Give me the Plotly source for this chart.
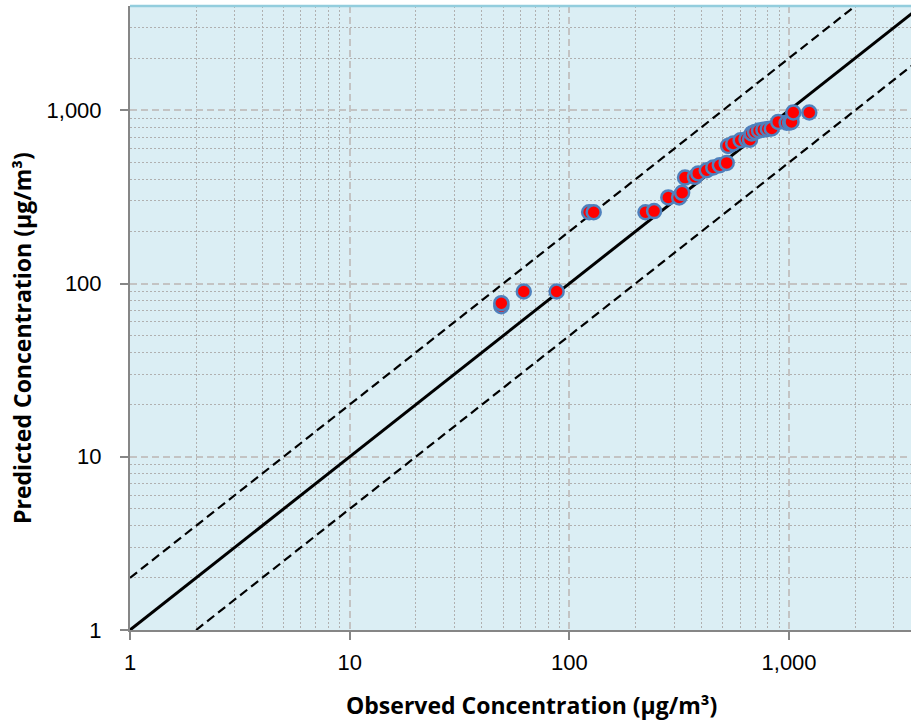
import plotly.graph_objects as go
import math

# Data (observed vs predicted, µg/m³)
observed = [49, 49, 62, 87.5, 123, 129, 222, 243, 282, 316, 326, 336, 373, 386,
            422, 452, 484, 520, 528, 557, 602, 640, 664, 676, 700, 730, 764, 800,
            834, 893, 975, 1010, 1026, 1045, 1236]
predicted = [74, 77, 90, 90, 258, 258, 258, 262, 314, 314, 334, 409, 413, 432,
             451, 468, 482, 497, 623, 643, 672, 680, 677, 735, 750, 765, 773, 780,
             785, 857, 847, 850, 857, 971, 971]

# Reference lines (1:1, factor-of-two bounds)
one_x = [1, 4000]
one_y = [1, 4000]
upper_x = [1, 2000]
upper_y = [2, 4000]
lower_x = [2, 8000]
lower_y = [1, 4000]

tick_vals = [1, 10, 100, 1000]
tick_text = ["1", "10", "100", "1,000"]
minor_vals = [m * d for d in [1, 10, 100, 1000] for m in range(2, 10)]

fig = go.Figure()
fig.add_trace(go.Scatter(x=upper_x, y=upper_y, mode="lines",
                         line=dict(color="black", width=2.2, dash="9px,5px"),
                         showlegend=False, hoverinfo="skip"))
fig.add_trace(go.Scatter(x=lower_x, y=lower_y, mode="lines",
                         line=dict(color="black", width=2.2, dash="9px,5px"),
                         showlegend=False, hoverinfo="skip"))
fig.add_trace(go.Scatter(x=one_x, y=one_y, mode="lines",
                         line=dict(color="black", width=3),
                         showlegend=False, hoverinfo="skip"))
fig.add_trace(go.Scatter(x=observed, y=predicted, mode="markers",
                         marker=dict(size=14, color="#FF0000",
                                     line=dict(color="#4F81BD", width=2.5)),
                         showlegend=False))

tick_font = dict(family="Liberation Sans, Arial, sans-serif", size=22, color="#000000")
axis_common = dict(
    type="log",
    tickvals=tick_vals,
    ticktext=tick_text,
    ticks="outside",
    ticklen=8,
    tickwidth=2,
    tickcolor="#868686",
    showline=True,
    linecolor="#868686",
    linewidth=2,
    showgrid=True,
    gridcolor="#C3C3C3",
    gridwidth=1.6,
    griddash="7px,4px",
    zeroline=False,
    tickfont=tick_font,
    minor=dict(tickvals=minor_vals, showgrid=True, gridcolor="#B0B0B0",
               gridwidth=1, griddash="2px,2px", ticks=""),
)

fig.update_xaxes(**axis_common, range=[0, 3.555], ticklabelstandoff=4)
fig.update_yaxes(**axis_common, range=[0, math.log10(4000)], ticklabelstandoff=14)

title_font = dict(family="Open Sans, Noto Sans, sans-serif", size=23, color="#000000")
fig.add_annotation(text="<b>Observed Concentration (µg/m³)</b>", xref="paper", yref="paper",
                   x=(531 - 130) / 781, y=-(705 - 630) / 624, xanchor="center", yanchor="middle",
                   showarrow=False, font=title_font)
fig.add_annotation(text="<b>Predicted Concentration (µg/m³)</b>", xref="paper", yref="paper",
                   x=-(130 - 22) / 781, y=(630 - 338) / 624, xanchor="center", yanchor="middle",
                   textangle=-90, showarrow=False, font=title_font)

fig.add_shape(type="line", xref="paper", yref="paper", x0=0, x1=1, y0=1, y1=1,
              line=dict(color="#93CDDD", width=2.5))

fig.update_layout(
    width=911, height=723,
    margin=dict(l=130, r=0, t=6, b=93),
    plot_bgcolor="#DBEEF4",
    paper_bgcolor="white",
    showlegend=False,
)

fig.write_html("out.html", config={"displayModeBar": False},
               post_script="document.body.style.margin='0';document.body.style.overflow='hidden';")
